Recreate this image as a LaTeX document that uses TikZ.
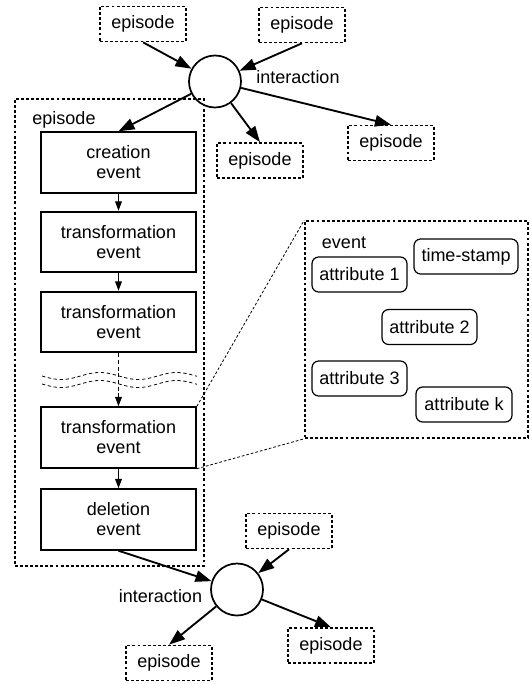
\documentclass[tikz,border=0pt]{standalone}
\usepackage{fontspec}
\setmainfont{Liberation Sans}
\usetikzlibrary{arrows.meta}
\begin{document}
\begin{tikzpicture}[x=0.75pt,y=-0.75pt,
  every node/.style={font=\fontsize{13.5}{15}\selectfont, inner sep=0pt},
  dotbox/.style={draw, line width=1.2pt, dash pattern=on 2.2pt off 1.6pt},
  epi/.style={dotbox, minimum width=64.5pt, minimum height=26.25pt},
  evbox/.style={draw, line width=1.3pt, minimum width=116.25pt, minimum height=45.5pt, align=center},
  attr/.style={draw, rounded corners=5pt, line width=0.9pt, minimum width=71.25pt, minimum height=26.25pt},
  inter/.style={circle, draw, line width=1.3pt, minimum size=39pt},
  bigarrow/.style={-{Triangle[length=12pt,width=8.5pt]}, line width=1.4pt},
  smallarrow/.style={-{Triangle[length=7pt,width=5pt]}, line width=0.8pt},
  zoomline/.style={line width=0.6pt, dash pattern=on 2pt off 1.5pt},
  wave/.style={line width=0.6pt, dash pattern=on 2.5pt off 2pt}
]
\useasboundingbox (0,0) rectangle (531,684);

% upper interaction
\node[epi] (ep1) at (143,24) {episode};
\node[epi] (ep2) at (302,25) {episode};
\node[inter] (topc) at (215,81.5) {};
\node (topint) at (298,77) {interaction};
\node[epi] (epA) at (260,160.5) {episode};
\node[epi] (epB) at (391,143) {episode};

% the episode with its chain of events
\node[dotbox, minimum width=141.75pt, minimum height=350.25pt] (epbox) at (109.5,332.5) {};
\node (eplabel) at (64,120) {episode};
\node[evbox] (creation) at (118.5,162.5) {creation\\event};
\node[evbox] (trans1) at (118.5,242) {transformation\\event};
\node[evbox] (trans2) at (118.5,322) {transformation\\event};
\node[evbox] (trans3) at (118.5,437.5) {transformation\\event};
\node[evbox] (deletion) at (118.5,519.5) {deletion\\event};

% detail of one event
\node[dotbox, minimum width=167.25pt, minimum height=162.75pt] (evdetail) at (416.5,329.5) {};
\node (evlabel) at (344,243) {event};
\node[attr, minimum width=78pt] (ts) at (466,256.5) {time-stamp};
\node[attr] (a1) at (359.5,274.5) {attribute 1};
\node[attr] (a2) at (429.5,327) {attribute 2};
\node[attr] (a3) at (359.5,378.5) {attribute 3};
\node[attr, minimum width=72pt] (ak) at (464,404.5) {attribute k};

% lower interaction
\node[inter] (botc) at (237,589.5) {};
\node (botint) at (160.5,596) {interaction};
\node[epi] (ep3) at (289,531) {episode};
\node[epi] (ep4) at (331,645.5) {episode};
\node[epi] (ep5) at (169,663) {episode};

% connectors
\draw[bigarrow] (ep1.south) -- (topc);
\draw[bigarrow] (ep2.south) -- (topc);
\draw[bigarrow] (topc) -- (creation.north);
\draw[bigarrow] (topc) -- (epA.north);
\draw[bigarrow] (topc) -- (epB.north);

\draw[smallarrow] (creation.south) -- (trans1.north);
\draw[smallarrow] (trans1.south) -- (trans2.north);
\draw[smallarrow, dash pattern=on 3pt off 2pt] (trans2.south) -- (trans3.north);
\draw[smallarrow] (trans3.south) -- (deletion.north);

\draw[bigarrow] (deletion.south) -- (botc);
\draw[bigarrow] (ep3.south) -- (botc);
\draw[bigarrow] (botc) -- (ep5.north);
\draw[bigarrow] (botc) -- (ep4.north);

% omitted events
\draw[wave] plot[domain=42:197, samples=80] (\x, {376+3.5*sin((\x-42)*4.675)});
\draw[wave] plot[domain=42:197, samples=80] (\x, {384+3.5*sin((\x-42)*4.675)});

% zoom lines
\draw[zoomline] (trans3.north east) -- (evdetail.north west);
\draw[zoomline] (trans3.south east) -- (evdetail.south west);
\end{tikzpicture}
\end{document}
